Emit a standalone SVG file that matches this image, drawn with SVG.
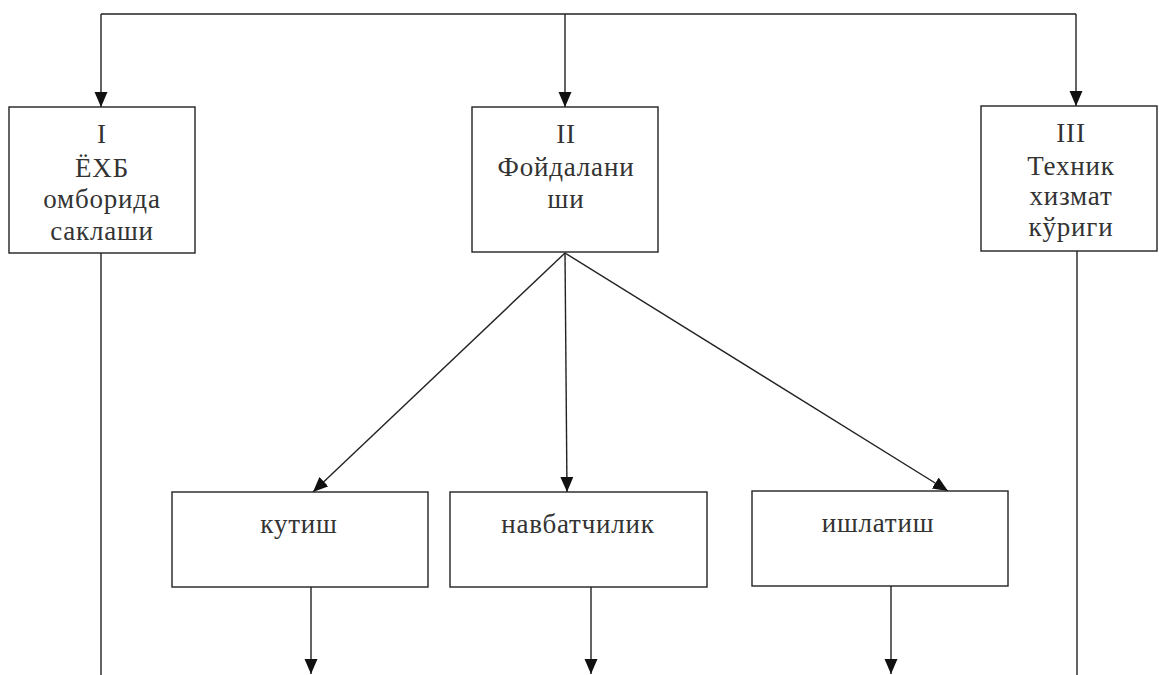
<svg xmlns="http://www.w3.org/2000/svg" width="1159" height="675" viewBox="0 0 1159 675">
<style>
.box{fill:#fff;stroke:#222;stroke-width:1.4}
.ln{fill:none;stroke:#222;stroke-width:1.4}
.t{font-family:"Liberation Serif","Times New Roman",serif;font-size:27px;letter-spacing:0.8px;fill:#333;text-anchor:middle}
</style>
<defs>
<marker id="ah" markerUnits="userSpaceOnUse" markerWidth="16" markerHeight="14" refX="15" refY="6.5" orient="auto">
<path d="M0,0 L15,6.5 L0,13 z" fill="#111"/>
</marker>
</defs>
<rect width="1159" height="675" fill="#fff"/>
<g id="connectors">
<path class="ln" d="M101,14 L1076,14"/>
<path class="ln" d="M101,14 L101,107" marker-end="url(#ah)"/>
<path class="ln" d="M565,14 L565,107" marker-end="url(#ah)"/>
<path class="ln" d="M1076,14 L1076,106" marker-end="url(#ah)"/>
<path class="ln" d="M565,253 L313,492" marker-end="url(#ah)"/>
<path class="ln" d="M565,253 L567,492" marker-end="url(#ah)"/>
<path class="ln" d="M565,253 L948,491" marker-end="url(#ah)"/>
<path class="ln" d="M311,587 L311,674" marker-end="url(#ah)"/>
<path class="ln" d="M591,587 L591,674" marker-end="url(#ah)"/>
<path class="ln" d="M891,586 L891,674" marker-end="url(#ah)"/>
<path class="ln" d="M101,253 L101,675" stroke="#999"/>
<path class="ln" d="M1077,251 L1077,675"/>
</g>
<g id="n1">
<rect class="box" x="9" y="107" width="186" height="146"/>
<text class="t" x="102" y="143">I</text>
<text class="t" x="102" y="177">ЁХБ</text>
<text class="t" x="102" y="208">омборида</text>
<text class="t" x="102" y="240">саклаши</text>
</g>
<g id="n2">
<rect class="box" x="472" y="107" width="186" height="145"/>
<text class="t" x="566" y="143">II</text>
<text class="t" x="566" y="176">Фойдалани</text>
<text class="t" x="566" y="208">ши</text>
</g>
<g id="n3">
<rect class="box" x="981" y="106" width="176" height="145"/>
<text class="t" x="1071" y="142">III</text>
<text class="t" x="1071" y="175">Техник</text>
<text class="t" x="1071" y="205">хизмат</text>
<text class="t" x="1071" y="236">кўриги</text>
</g>
<g id="n4">
<rect class="box" x="172" y="492" width="256" height="95"/>
<text class="t" x="299" y="533">кутиш</text>
</g>
<g id="n5">
<rect class="box" x="450" y="492" width="257" height="95"/>
<text class="t" x="578" y="533">навбатчилик</text>
</g>
<g id="n6">
<rect class="box" x="752" y="491" width="256" height="95"/>
<text class="t" x="878" y="532">ишлатиш</text>
</g>
</svg>
